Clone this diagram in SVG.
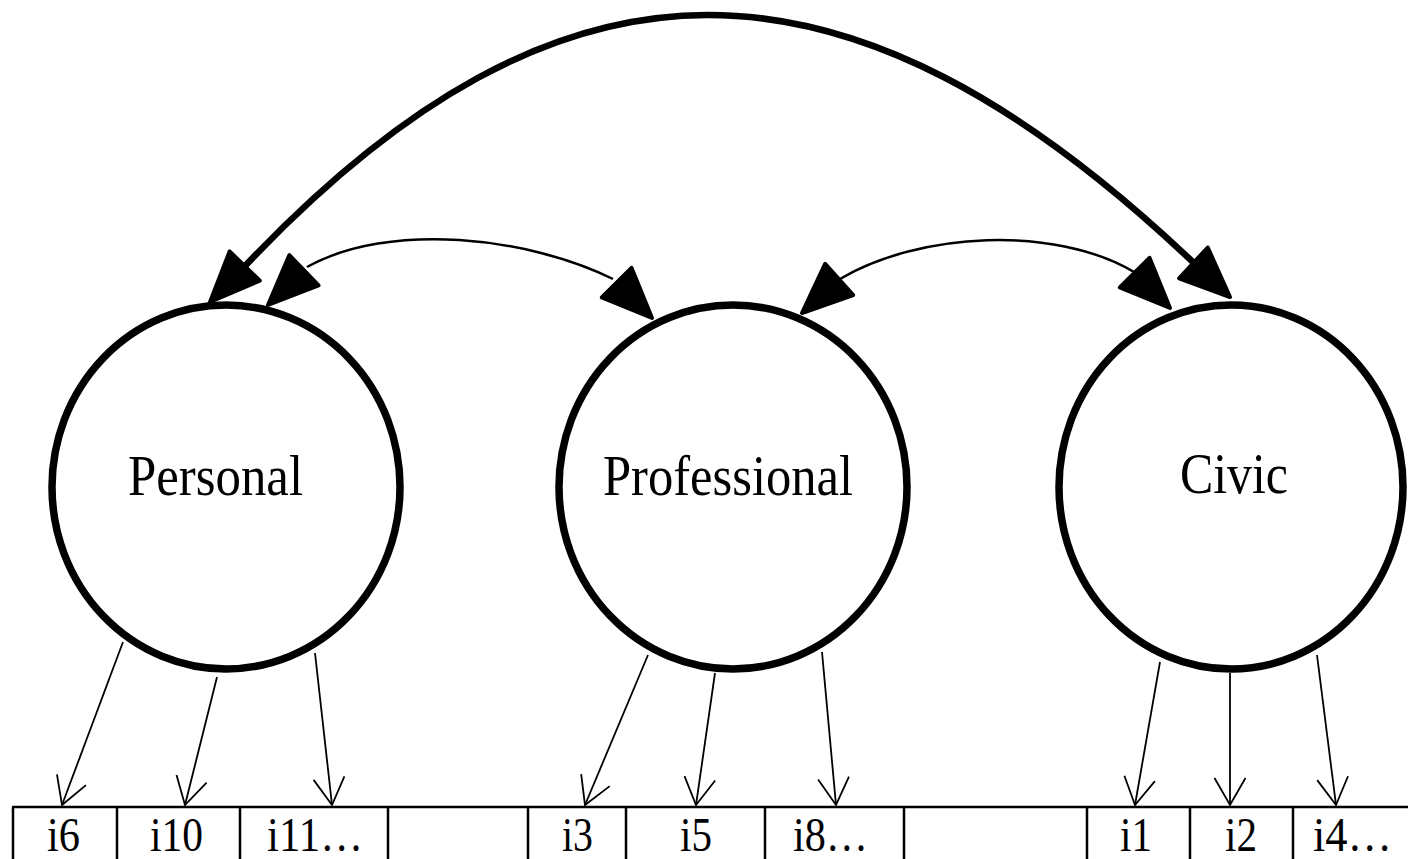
<svg xmlns="http://www.w3.org/2000/svg" xmlns:xlink="http://www.w3.org/1999/xlink" width="1408" height="859" viewBox="0 0 1408 859">
<style>
.latent{fill:#fff;stroke:#000;stroke-width:7.5}
.lbl{font-family:"Liberation Serif","Times New Roman",serif;fill:#000}
.big{fill:none;stroke:#000;stroke-width:6.5}
.cov{fill:none;stroke:#000;stroke-width:2.5}
.load{fill:none;stroke:#000;stroke-width:1.8}
.head{fill:#000;stroke:#000;stroke-width:4;stroke-linejoin:round}
.grid{stroke:#000;stroke-width:2.5;fill:none}
</style>
<defs>
<path id="fhead" d="M0,0 L-50,-21 L-50,21 Z"/>
<marker id="open" markerUnits="userSpaceOnUse" markerWidth="40" markerHeight="40" viewBox="-35 -20 40 40" refX="0" refY="0" orient="auto">
<path d="M-27,-15.5 L0,0 L-27,15.5" fill="none" stroke="#000" stroke-width="1.8"/>
</marker>
</defs>
<g id="connectors">
<path class="big" d="M245,266 C560,-67 845,-70 1196,265"/>
<path class="cov" d="M307,267 C390,221 528,237 613,279"/>
<path class="cov" d="M840,279 C919,232 1055,225 1134,272"/>
<use xlink:href="#fhead" class="head" transform="translate(210,302) rotate(134)"/>
<use xlink:href="#fhead" class="head" transform="translate(1230,297) rotate(43)"/>
<use xlink:href="#fhead" class="head" transform="translate(268,305) rotate(136)"/>
<use xlink:href="#fhead" class="head" transform="translate(652,318) rotate(45)"/>
<use xlink:href="#fhead" class="head" transform="translate(802,313) rotate(138)"/>
<use xlink:href="#fhead" class="head" transform="translate(1170,308) rotate(45)"/>
<line class="load" x1="123" y1="642" x2="62" y2="805" marker-end="url(#open)"/>
<line class="load" x1="217" y1="677" x2="185" y2="805" marker-end="url(#open)"/>
<line class="load" x1="315" y1="653" x2="332" y2="805" marker-end="url(#open)"/>
<line class="load" x1="648" y1="655" x2="585" y2="805" marker-end="url(#open)"/>
<line class="load" x1="715" y1="673" x2="696" y2="805" marker-end="url(#open)"/>
<line class="load" x1="822" y1="652" x2="836" y2="805" marker-end="url(#open)"/>
<line class="load" x1="1160" y1="662" x2="1135" y2="805" marker-end="url(#open)"/>
<line class="load" x1="1230" y1="673" x2="1230" y2="805" marker-end="url(#open)"/>
<line class="load" x1="1317" y1="655" x2="1336" y2="805" marker-end="url(#open)"/>
</g>
<g id="personal">
<ellipse class="latent" cx="226" cy="487" rx="174" ry="182"/>
<text class="lbl" x="128" y="495" font-size="56" textLength="175" lengthAdjust="spacingAndGlyphs">Personal</text>
</g>
<g id="professional">
<ellipse class="latent" cx="733" cy="487" rx="174" ry="182"/>
<text class="lbl" x="603" y="495" font-size="56" textLength="250" lengthAdjust="spacingAndGlyphs">Professional</text>
</g>
<g id="civic">
<ellipse class="latent" cx="1231" cy="487" rx="172" ry="182"/>
<text class="lbl" x="1180" y="493" font-size="56" textLength="108" lengthAdjust="spacingAndGlyphs">Civic</text>
</g>
<g id="indicators">
<path class="grid" d="M12,807 H1408 M13,807 V859 M117,807 V859 M240,807 V859 M388,807 V859 M528,807 V859 M626,807 V859 M765,807 V859 M904,807 V859 M1087,807 V859 M1190,807 V859 M1293,807 V859"/>
<text class="lbl" x="47" y="851" font-size="48" textLength="33" lengthAdjust="spacingAndGlyphs">i6</text>
<text class="lbl" x="150" y="851" font-size="48" textLength="53" lengthAdjust="spacingAndGlyphs">i10</text>
<text class="lbl" x="267" y="851" font-size="48" textLength="96" lengthAdjust="spacingAndGlyphs">i11…</text>
<text class="lbl" x="562" y="851" font-size="48" textLength="31" lengthAdjust="spacingAndGlyphs">i3</text>
<text class="lbl" x="680" y="851" font-size="48" textLength="32" lengthAdjust="spacingAndGlyphs">i5</text>
<text class="lbl" x="793" y="851" font-size="48" textLength="75" lengthAdjust="spacingAndGlyphs">i8…</text>
<text class="lbl" x="1120" y="851" font-size="48" textLength="32" lengthAdjust="spacingAndGlyphs">i1</text>
<text class="lbl" x="1225" y="851" font-size="48" textLength="32" lengthAdjust="spacingAndGlyphs">i2</text>
<text class="lbl" x="1313" y="851" font-size="48" textLength="79" lengthAdjust="spacingAndGlyphs">i4…</text>
</g>
</svg>
